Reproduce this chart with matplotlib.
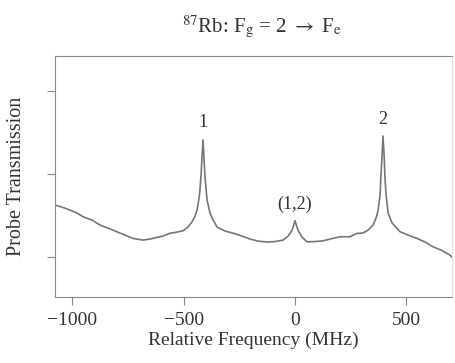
import matplotlib
matplotlib.use('Agg')
from matplotlib import pyplot as plt

plt.rcParams['font.family'] = ['Liberation Serif', 'DejaVu Serif']
plt.rcParams['mathtext.fontset'] = 'stix'

# probe transmission trace (MHz, arbitrary units)
freq = [-1078, -1047, -1011, -979, -952, -912, -876, -840, -800, -764, -728, -683,
        -651, -620, -593, -562, -530, -503, -481, -463, -449, -440, -431, -427,
        -422, -418, -413, -409, -404, -395, -382, -368, -350, -314, -279, -238,
        -202, -166, -126, -90, -54, -31, -13, 0, 13, 31, 54, 90, 126, 166, 202,
        247, 279, 305, 328, 350, 364, 373, 382, 386, 391, 395, 400, 404, 409,
        418, 436, 472, 508, 548, 584, 620, 656, 696, 705]
trans = [1.627, 1.602, 1.566, 1.530, 1.486, 1.446, 1.386, 1.349, 1.305, 1.265, 1.225, 1.205,
         1.217, 1.237, 1.253, 1.286, 1.301, 1.317, 1.361, 1.422, 1.494, 1.566, 1.711, 1.807,
         1.988, 2.193, 2.410, 2.193, 1.952, 1.687, 1.530, 1.446, 1.361, 1.313, 1.289, 1.253,
         1.217, 1.193, 1.181, 1.187, 1.205, 1.253, 1.325, 1.437, 1.325, 1.241, 1.184, 1.187, 1.196, 1.223, 1.245,
         1.245, 1.286, 1.289, 1.325, 1.386, 1.470, 1.566, 1.747, 1.988, 2.229, 2.458, 2.229, 1.952, 1.747,
         1.530, 1.410, 1.305, 1.265, 1.225, 1.181, 1.124, 1.084, 1.024, 1.000]

peak_labels = ['1', '(1,2)', '2']
peak_freq = [-413, 0, 395]
peak_top = [2.41, 1.437, 2.458]

xticks = [-1000, -500, 0, 500]
yticks = [1, 2, 3]

fig = plt.figure(figsize=(4.56, 3.63), dpi=100)
ax = fig.add_axes([55/456, 1 - 297/363, 397/456, 241/363])

ax.plot(freq, trans, color='#767676', lw=1.2)

offsets = [0.21, 0.2, 0.2]
for lab, f, t, o in zip(peak_labels, peak_freq, peak_top, offsets):
    ax.text(f, t + o, lab, ha='center', va='center', fontsize=13, color='#333333')

ax.set_xlim(-1078, 705)
ax.set_ylim(0.52, 3.42)
ax.set_xticks(xticks)
ax.set_xticklabels(['\u22121000', '\u2212500', '0', '500'])
ax.set_yticks(yticks)
ax.set_yticklabels([])
ax.tick_params(direction='out', length=6, color='#888888', labelsize=14,
               labelcolor='#333333', pad=5)
for s in ax.spines.values():
    s.set_color('#8a8a8a')
ax.spines['right'].set_color('#e4e4e4')

ax.set_xlabel('Relative Frequency (MHz)', fontsize=14, color='#333333', labelpad=2)
ax.set_ylabel('Probe Transmission', fontsize=14.5, color='#333333', labelpad=10)

fig.text(262/456, 1 - 27/363, r'$^{87}$Rb: F$_{\rm g}$ = 2 $\rightarrow$ F$_{\rm e}$',
         ha='center', va='center', fontsize=15, color='#333333')

fig.savefig('out.png', dpi=100)
